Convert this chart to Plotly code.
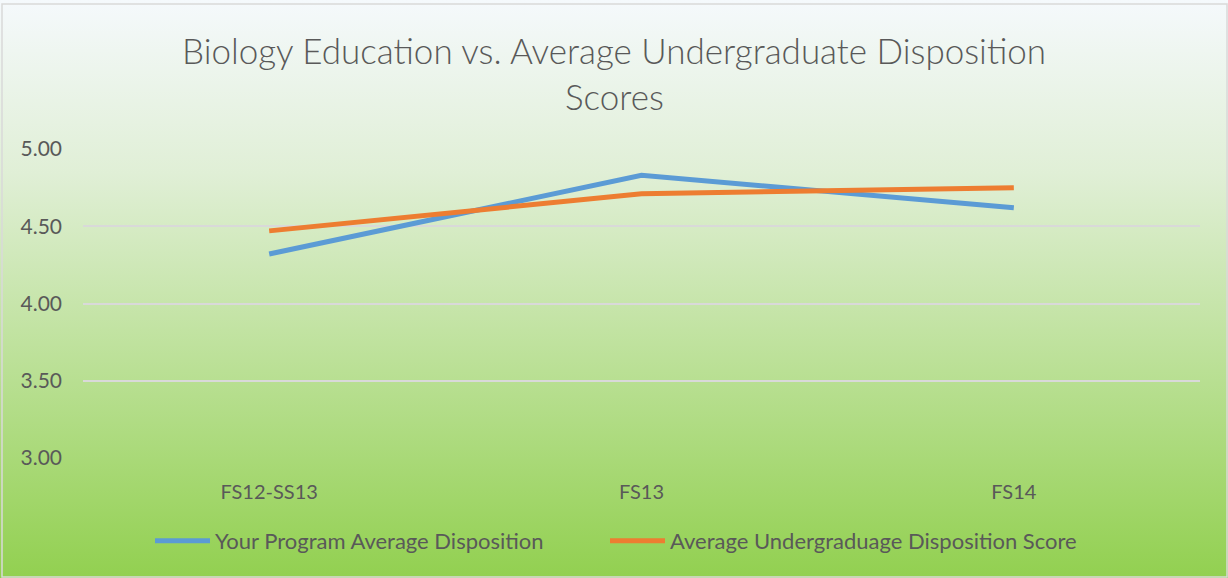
import base64
import plotly.graph_objects as go

categories = ["FS12-SS13", "FS13", "FS14"]
program_avg = [4.32, 4.83, 4.62]
undergrad_avg = [4.47, 4.71, 4.75]
y_ticks = [3.0, 3.5, 4.0, 4.5, 5.0]
title_lines = ["Biology Education vs. Average Undergraduate Disposition", "Scores"]

W, H = 1228, 578
ML, MR, MT, MB = 83, 28, 149, 120
PW, PH = W - ML - MR, H - MT - MB

svg = (
    '<svg xmlns="http://www.w3.org/2000/svg" width="100" height="100" preserveAspectRatio="none">'
    '<defs><linearGradient id="g" x1="0" y1="0" x2="0" y2="1">'
    '<stop offset="0" stop-color="#F5F9FC"/>'
    '<stop offset="0.3" stop-color="#E0EFD6"/>'
    '<stop offset="1" stop-color="#92D050"/>'
    '</linearGradient></defs>'
    '<rect width="100" height="100" fill="url(#g)"/></svg>'
)
src = "data:image/svg+xml;base64," + base64.b64encode(svg.encode()).decode()

grey = "#595959"
font = "Lato"

fig = go.Figure()
fig.add_trace(go.Scatter(x=categories, y=program_avg, mode="lines",
                         name="Your Program Average Disposition", legend="legend",
                         line=dict(color="#5B9BD5", width=5)))
fig.add_trace(go.Scatter(x=categories, y=undergrad_avg, mode="lines",
                         name="Average Undergraduage Disposition Score", legend="legend2",
                         line=dict(color="#ED7D31", width=5)))

leg_y = -(541 - (H - MB)) / PH
leg_common = dict(orientation="h", xanchor="left", y=leg_y, yanchor="middle",
                  itemwidth=55, font=dict(size=22, color=grey),
                  bgcolor="rgba(0,0,0,0)")

fig.update_layout(
    width=W, height=H,
    margin=dict(l=ML, r=MR, t=MT, b=MB, autoexpand=False),
    paper_bgcolor="white",
    plot_bgcolor="rgba(0,0,0,0)",
    font=dict(family=font, color=grey, size=21),
    showlegend=True,
    legend=dict(x=(150 - ML) / PW, **leg_common),
    legend2=dict(x=(605 - ML) / PW, **leg_common),
    images=[dict(source=src, xref="paper", yref="paper",
                 x=-ML / PW, y=1 + MT / PH, sizex=W / PW, sizey=H / PH,
                 sizing="stretch", layer="below", xanchor="left", yanchor="top")],
    shapes=[dict(type="rect", xref="paper", yref="paper",
                 x0=-(ML - 2) / PW, x1=1 + (MR - 1) / PW,
                 y0=-(MB - 1) / PH, y1=1 + (MT - 4) / PH,
                 line=dict(color="#D9D9D9", width=1.5), fillcolor="rgba(0,0,0,0)",
                 layer="below")],
)

for txt, yc in zip(title_lines, [50, 96]):
    fig.add_annotation(text=txt, xref="paper", yref="paper",
                       x=(614 - ML) / PW, y=1 + (MT - yc) / PH,
                       xanchor="center", yanchor="middle", showarrow=False,
                       font=dict(family=font, size=35, color=grey, weight=300))

fig.update_xaxes(range=[-0.5, 2.5], showgrid=False, zeroline=False, showline=False,
                 ticks="", automargin=False,
                 tickfont=dict(size=20, color=grey), ticklabelstandoff=20)
fig.update_yaxes(range=[3, 5], tickvals=y_ticks, tickformat=".2f",
                 showgrid=True, gridcolor="#D9D9D9", gridwidth=1.5,
                 zeroline=False, showline=False, ticks="", automargin=False,
                 tickfont=dict(size=21, color=grey), ticklabelstandoff=20)

fig.write_html("out.html", config={"displayModeBar": False},
               post_script="document.body.style.margin='0';document.body.style.overflow='hidden';")
